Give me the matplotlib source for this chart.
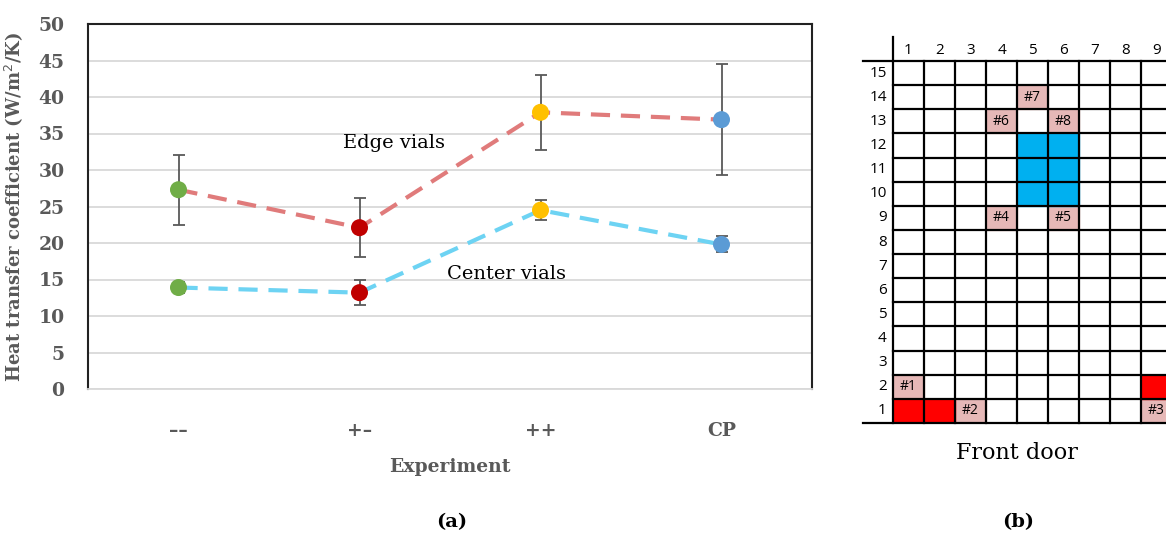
import matplotlib.pyplot as plt
from matplotlib.patches import Rectangle
import numpy as np

# heat transfer coefficient per experiment
experiments = ["\u2013\u2013", "+\u2013", "++", "CP"]
edge_vals = [27.3, 22.1, 37.9, 36.9]
edge_err = [4.8, 4.0, 5.1, 7.6]
center_vals = [13.9, 13.2, 24.5, 19.8]
center_err = [0.7, 1.7, 1.4, 1.1]
point_colors = ["#70AD47", "#C00000", "#FFC000", "#5B9BD5"]

# shelf layout (column, row)
n_cols, n_rows = 9, 15
pink_cells = {"#1": (1, 2), "#2": (3, 1), "#3": (9, 1), "#4": (4, 9), "#5": (6, 9),
              "#6": (4, 13), "#7": (5, 14), "#8": (6, 13)}
red_cells = [(1, 1), (2, 1), (9, 2)]
blue_cells = [(5, 10), (5, 11), (5, 12), (6, 10), (6, 11), (6, 12)]

W, H = 1166, 538
fig = plt.figure(figsize=(W / 100, H / 100), dpi=100)
serif = "DejaVu Serif"
gray = "#595959"

# ---- (a) line chart ----
ax = fig.add_axes([88 / W, 1 - 389 / H, 724 / W, 365 / H])
x = np.arange(len(experiments))
ax.plot(x, edge_vals, color="#E07B7B", lw=3, dashes=(4.6, 2.6), zorder=2)
ax.plot(x, center_vals, color="#6DD3F3", lw=3, dashes=(4.6, 2.6), zorder=2)
for vals, err in [(edge_vals, edge_err), (center_vals, center_err)]:
    ax.errorbar(x, vals, yerr=err, fmt="none", ecolor=gray, elinewidth=1.3,
                capsize=4, capthick=1.3, zorder=3)
    ax.scatter(x, vals, s=150, c=point_colors, zorder=4, linewidths=0)

ax.set_xlim(-0.5, 3.5)
ax.set_ylim(0, 50)
ax.set_yticks(np.arange(0, 51, 5))
ax.set_xticks(x)
ax.set_xticklabels(experiments)
ax.grid(axis="y", color="#D9D9D9", lw=1.3)
ax.set_axisbelow(True)
ax.tick_params(length=0)
ax.tick_params(axis="y", pad=17)
ax.tick_params(axis="x", pad=24)
for lab in ax.get_yticklabels() + ax.get_xticklabels():
    lab.set_fontfamily(serif)
    lab.set_fontsize(13.5)
    lab.set_color(gray)
    lab.set_fontweight("bold")
for side in ["left", "top", "right"]:
    ax.spines[side].set_color("#222222")
    ax.spines[side].set_linewidth(1.5)
ax.spines["bottom"].set_color("#D9D9D9")
ax.spines["bottom"].set_linewidth(1.3)

ax.set_ylabel("Heat transfer coefficient (W/m$^2$/K)", family=serif, fontsize=13,
              color=gray, fontweight="bold")
ax.yaxis.set_label_coords(-0.087, 0.5)
ax.set_xlabel("Experiment", family=serif, fontsize=13.5, color=gray, fontweight="bold")
ax.xaxis.set_label_coords(0.5, -0.19)

ax.text(1.19, 33.7, "Edge vials", family=serif, fontsize=14, ha="center", va="center")
ax.text(1.81, 15.8, "Center vials", family=serif, fontsize=14, ha="center", va="center")

fig.text(452 / W, 1 - 522 / H, "(a)", family=serif, fontsize=14, fontweight="bold",
         ha="center", va="center")
fig.text(1018 / W, 1 - 522 / H, "(b)", family=serif, fontsize=14, fontweight="bold",
         ha="center", va="center")

# ---- (b) shelf grid ----
gx = fig.add_axes([893 / W, 1 - 423 / H, 279 / W, 362 / H])
gx.set_xlim(0, n_cols)
gx.set_ylim(0, n_rows)
gx.axis("off")

for lab, (c, r) in pink_cells.items():
    gx.add_patch(Rectangle((c - 1, r - 1), 1, 1, color="#E6B8B7", zorder=1))
    gx.text(c - 0.5, r - 0.5, lab, family="Open Sans", fontsize=10,
            ha="center", va="center", zorder=3)
for c, r in red_cells:
    gx.add_patch(Rectangle((c - 1, r - 1), 1, 1, color="#FF0000", zorder=1))
for c, r in blue_cells:
    gx.add_patch(Rectangle((c - 1, r - 1), 1, 1, color="#00B0F0", zorder=1))

for r in range(1, n_rows):
    gx.plot([0, n_cols], [r, r], color="black", lw=1.6, zorder=2, clip_on=False)
for c in range(1, n_cols):
    gx.plot([c, c], [0, n_rows], color="black", lw=1.6, zorder=2, clip_on=False)
gx.plot([-0.97, n_cols], [n_rows, n_rows], color="black", lw=1.6, clip_on=False)
gx.plot([-0.97, n_cols], [0, 0], color="black", lw=1.6, clip_on=False)
gx.plot([0, 0], [0, 16.0], color="black", lw=1.6, clip_on=False)

for c in range(1, n_cols + 1):
    gx.text(c - 0.5, 15.45, str(c), family="Open Sans", fontsize=11,
            ha="center", va="center", clip_on=False)
for r in range(1, n_rows + 1):
    gx.text(-0.2, r - 0.5, str(r), family="Open Sans", fontsize=11,
            ha="right", va="center", clip_on=False)

fig.text(1017 / W, 1 - 453 / H, "Front door", family=serif, fontsize=16,
         ha="center", va="center")

fig.savefig("out.png", dpi=100)
